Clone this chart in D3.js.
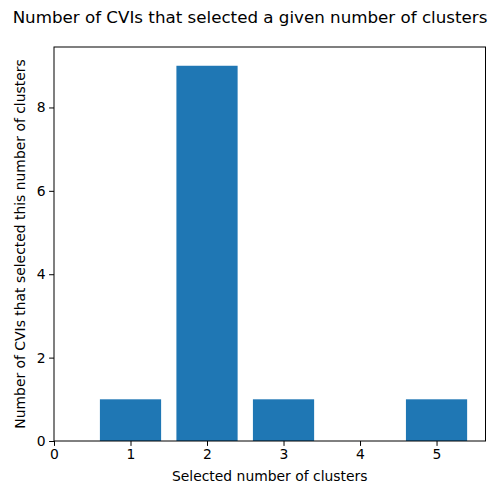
<!DOCTYPE html>
<html>
<head>
<meta charset="utf-8">
<script src="https://cdn.jsdelivr.net/npm/d3@7"></script>
<style>
  body { margin: 0; background: #fff; }
  svg { font-family: 'DejaVu Sans', sans-serif; }
</style>
</head>
<body>
<div id="chart"></div>
<script>
const clusters = [1, 2, 3, 4, 5];
const counts = [1, 9, 1, 0, 1];
const xTicks = [0, 1, 2, 3, 4, 5];
const yTicks = [0, 2, 4, 6, 8];

const W = 500, H = 500;
const margin = { top: 47, right: 14.5, bottom: 59, left: 54 };
const width = W - margin.left - margin.right;
const height = H - margin.top - margin.bottom;

const svg = d3.select('#chart').append('svg')
  .attr('width', W)
  .attr('height', H);

const g = svg.append('g')
  .attr('transform', `translate(${margin.left},${margin.top})`);

const x = d3.scaleLinear().domain([0, 5.64]).range([0, width]);
const y = d3.scaleLinear().domain([0, 9.45]).range([height, 0]);

// bars
g.selectAll('rect.bar')
  .data(clusters)
  .join('rect')
  .attr('class', 'bar')
  .attr('x', (d) => x(d - 0.4))
  .attr('width', (d) => x(d + 0.4) - x(d - 0.4))
  .attr('y', (d, i) => y(counts[i]))
  .attr('height', (d, i) => y(0) - y(counts[i]))
  .attr('fill', '#1f77b4');

// axes
const xAxis = g.append('g')
  .attr('transform', `translate(0,${height})`)
  .call(d3.axisBottom(x).tickValues(xTicks).tickSize(4.9).tickPadding(3.5).tickFormat(d3.format('d')));

const yAxis = g.append('g')
  .call(d3.axisLeft(y).tickValues(yTicks).tickSize(4.9).tickPadding(3.5).tickFormat(d3.format('d')));

[xAxis, yAxis].forEach((a) => {
  a.select('.domain').remove();
  a.selectAll('text').style('font-size', '13.9px').attr('fill', '#000')
    .style('font-family', "'DejaVu Sans', sans-serif");
  a.selectAll('line').attr('stroke', '#000').attr('stroke-width', 1);
});

// frame
g.append('rect')
  .attr('width', width)
  .attr('height', height)
  .attr('fill', 'none')
  .attr('stroke', '#000')
  .attr('stroke-width', 1);

// labels
svg.append('text')
  .attr('x', W / 2)
  .attr('y', 23)
  .attr('text-anchor', 'middle')
  .style('font-size', '16.7px')
  .text('Number of CVIs that selected a given number of clusters');

svg.append('text')
  .attr('x', margin.left + width / 2)
  .attr('y', 481)
  .attr('text-anchor', 'middle')
  .style('font-size', '13.9px')
  .text('Selected number of clusters');

svg.append('text')
  .attr('transform', `translate(25,${margin.top + height / 2}) rotate(-90)`)
  .attr('text-anchor', 'middle')
  .style('font-size', '13.9px')
  .text('Number of CVIs that selected this number of clusters');
</script>
</body>
</html>
